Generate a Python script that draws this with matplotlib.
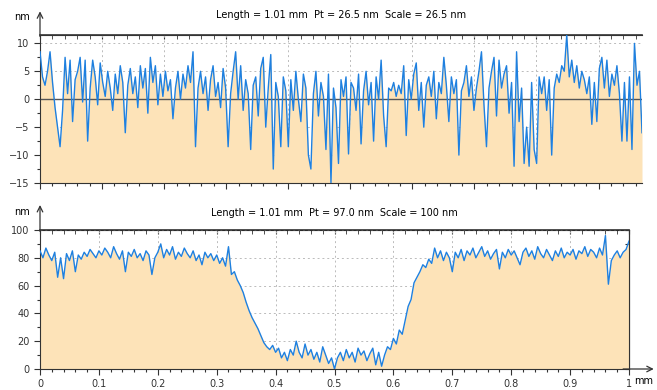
import numpy as np
import matplotlib
matplotlib.use("Agg")
import matplotlib.pyplot as plt
from matplotlib.ticker import MultipleLocator, NullFormatter

plt.rcParams['font.family'] = ['DejaVu Sans']

# profil du haut (rugosite, nm)
top_length = 0.97
top_z = [8.5, 4.0, 2.5, 5.0, 8.5, 3.0, -1.5, -5.0, -8.5, -2.0, 7.5, 1.0, 7.0, -4.0, 3.5, 5.0, 7.5, -0.5, 7.0, -7.5,
         2.0, 7.0, 4.0, -1.0, 6.5, 3.0, 0.5, 5.0, 2.0, -2.0, 4.5, 1.0, 6.0, 3.0, -6.0, 2.5, 5.5, 1.0, 4.0, -1.5,
         6.0, 2.0, 5.5, -2.5, 7.5, 3.0, 6.0, -1.0, 4.5, 0.5, 5.0, 1.5, 3.5, -3.5, 2.0, 5.0, 0.0, 4.5, 2.0, 6.0,
         3.0, 8.5, -8.5, 2.0, 5.0, 1.0, 4.0, -2.0, 3.5, 6.0, 0.5, 3.0, -1.5, 5.5, 2.0, -8.5, 1.0, 5.0, 8.5, 0.0,
         6.0, -2.0, 3.5, 1.0, -9.0, 2.5, 4.0, -3.0, 5.5, 7.5, -5.0, 2.0, 8.0, -12.5, 3.0, 0.5, -8.5, 4.0, 1.5, -8.5,
         3.5, -2.0, 5.0, 0.0, -4.0, 4.5, 2.0, -10.0, -12.5, 1.0, 5.0, -3.0, 3.0, 0.5, -9.0, 4.5, -15.0, 2.0, -1.5, -11.5,
         3.5, 0.5, 4.0, -9.8, 3.0, 2.0, -2.0, 4.5, -8.0, 1.5, 5.0, -1.0, 3.0, -7.5, 4.0, 0.0, 7.0, -3.0, -8.5, 2.0,
         1.5, 3.0, 0.5, 2.5, 1.0, 6.0, -6.5, 3.5, 0.0, 4.5, 6.5, -2.0, 3.0, -5.0, 2.5, 4.0, 0.5, 5.0, -3.5, 3.0,
         1.0, 7.5, 2.5, -4.0, 4.0, 1.0, 3.5, -10.0, 1.5, 3.0, 6.0, 0.5, 4.0, -2.0, 2.0, 5.0, 8.5, -1.0, -8.5, 2.0,
         5.0, 7.5, -3.0, 7.0, 2.0, 4.5, 6.0, -2.5, 3.0, -12.0, 8.5, -4.0, 2.0, -11.5, -5.0, -12.0, 3.0, -9.0, -11.5, 4.0,
         1.0, 4.0, -2.0, 3.5, -10.0, 2.0, 4.5, 3.0, 6.0, 5.0, 11.5, 4.0, 7.0, 3.0, 6.0, 2.0, 5.0, 3.5, 1.0, 4.0,
         -4.5, 3.0, -4.0, 5.5, 7.5, 2.0, 7.0, 0.5, 4.5, 2.5, 6.0, 1.0, -7.5, 3.0, -7.5, 4.0, -9.0, 10.0, 2.5, 5.0, -6.0]
top_title = "Length = 1.01 mm  Pt = 26.5 nm  Scale = 26.5 nm"

# profil du bas (marche, nm)
bot_length = 1.0
bot_z = [85, 80, 87, 82, 78, 84, 66, 80, 65, 83, 78, 85, 70, 82, 79, 84, 81, 86, 83, 80,
         85, 82, 87, 84, 80, 88, 83, 79, 85, 70, 84, 81, 86, 80, 83, 78, 85, 82, 68, 80,
         84, 90, 80, 86, 82, 88, 79, 84, 81, 87, 83, 80, 85, 78, 82, 75, 84, 80, 83, 78,
         82, 76, 80, 74, 88, 68, 70, 64, 60, 55, 48, 42, 37, 33, 29, 24, 19, 16, 14, 17,
         12, 15, 8, 12, 6, 14, 10, 20, 12, 8, 18, 10, 14, 7, 12, 5, 16, 10, 4, 8,
         0, 8, 12, 6, 14, 8, 12, 5, 15, 10, 13, 6, 11, 15, 3, 12, 2, 10, 16, 14,
         22, 18, 28, 25, 35, 45, 50, 62, 66, 70, 75, 73, 79, 76, 87, 80, 85, 78, 84, 80,
         70, 84, 80, 86, 78, 85, 82, 87, 80, 84, 88, 81, 85, 79, 83, 86, 72, 84, 80, 86,
         82, 85, 80, 75, 84, 87, 81, 85, 79, 88, 83, 80, 86, 82, 78, 85, 81, 87, 80, 84,
         82, 86, 79, 85, 83, 88, 81, 86, 84, 80, 87, 82, 96, 61, 78, 82, 85, 80, 84, 86, 92]
bot_title = "Length = 1.01 mm  Pt = 97.0 nm  Scale = 100 nm"
bot_xticks = [0, 0.1, 0.2, 0.3, 0.4, 0.5, 0.6, 0.7, 0.8, 0.9, 1]
bot_xlabels = ["0", "0.1", "0.2", "0.3", "0.4", "0.5", "0.6", "0.7", "0.8", "0.9", "1"]

fill_col = "#FDE3B8"
line_col = "#1E80E0"
fs = 7

fig = plt.figure(figsize=(6.57, 3.9), dpi=100)
W, H = 657, 390

def px_axes(l, t, r, b):
    return fig.add_axes([l / W, 1 - b / H, (r - l) / W, (b - t) / H])

# ---- panneau du haut
ax1 = px_axes(40, 35, 642, 183)
x1 = np.linspace(0, top_length, len(top_z))
ax1.fill_between(x1, top_z, -15, color=fill_col, lw=0, zorder=1)
ax1.axhline(0, color="#555555", lw=1, zorder=2)
ax1.plot(x1, top_z, color=line_col, lw=1.0, zorder=3)
ax1.set_xlim(0, top_length)
ax1.set_ylim(-15, 11.5)
ax1.yaxis.set_major_locator(MultipleLocator(5))
ax1.yaxis.set_minor_locator(MultipleLocator(2.5))
ax1.xaxis.set_major_locator(MultipleLocator(0.1))
ax1.xaxis.set_minor_locator(MultipleLocator(0.02))
ax1.xaxis.set_major_formatter(NullFormatter())
ax1.grid(True, which="major", color="#BBBBBB", ls=(0, (2, 3)), lw=0.7, zorder=0)
ax1.set_axisbelow(True)
ax1.spines["right"].set_visible(False)
for s in ["left", "top", "bottom"]:
    ax1.spines[s].set_color("#333333")
ax1.spines["top"].set_linewidth(1.2)
ax1.tick_params(axis="both", which="both", colors="#333333", labelsize=fs, width=0.8)
ax1.tick_params(which="major", length=4)
ax1.tick_params(which="minor", length=2)
sec1 = ax1.secondary_xaxis("top")
sec1.xaxis.set_major_locator(MultipleLocator(0.1))
sec1.xaxis.set_minor_locator(MultipleLocator(0.02))
sec1.xaxis.set_major_formatter(NullFormatter())
sec1.tick_params(which="both", direction="in", length=3, color="#333333")
sec1.spines["top"].set_color("#333333")
ax1.set_title(top_title, fontsize=fs, pad=12)
ax1.annotate("", xy=(0, 1.16), xycoords="axes fraction", xytext=(0, 0.99),
             arrowprops=dict(arrowstyle="->", color="#333333", lw=0.9, shrinkA=0, shrinkB=0))
ax1.text(-0.03, 1.12, "nm", transform=ax1.transAxes, fontsize=fs, ha="center", va="center")

# ---- panneau du bas
ax2 = px_axes(40, 230, 629, 369)
x2 = np.linspace(0, bot_length, len(bot_z))
ax2.fill_between(x2, bot_z, 0, color=fill_col, lw=0, zorder=1)
ax2.plot(x2, bot_z, color=line_col, lw=1.0, zorder=3)
ax2.set_xlim(0, bot_length)
ax2.set_ylim(0, 100)
ax2.set_xticks(bot_xticks)
ax2.set_xticklabels(bot_xlabels)
ax2.xaxis.set_minor_locator(MultipleLocator(0.02))
ax2.yaxis.set_major_locator(MultipleLocator(20))
ax2.yaxis.set_minor_locator(MultipleLocator(10))
ax2.grid(True, which="major", color="#BBBBBB", ls=(0, (2, 3)), lw=0.7, zorder=0)
ax2.set_axisbelow(True)
for s in ax2.spines.values():
    s.set_color("#333333")
ax2.spines["top"].set_linewidth(1.2)
ax2.tick_params(axis="both", which="both", colors="#333333", labelsize=fs, width=0.8)
ax2.tick_params(which="major", length=4)
ax2.tick_params(which="minor", length=2)
sec2 = ax2.secondary_xaxis("top")
sec2.xaxis.set_major_locator(MultipleLocator(0.1))
sec2.xaxis.set_minor_locator(MultipleLocator(0.02))
sec2.xaxis.set_major_formatter(NullFormatter())
sec2.tick_params(which="both", direction="in", length=3, color="#333333")
sec3 = ax2.secondary_yaxis("right")
sec3.yaxis.set_major_locator(MultipleLocator(10))
sec3.yaxis.set_major_formatter(NullFormatter())
sec3.tick_params(which="both", direction="in", length=3, color="#333333")
ax2.set_title(bot_title, fontsize=fs, pad=10)
ax2.annotate("", xy=(1.042, 0), xycoords="axes fraction", xytext=(0.99, 0),
             arrowprops=dict(arrowstyle="->", color="#333333", lw=0.9, shrinkA=0, shrinkB=0))
ax2.annotate("", xy=(0, 1.18), xycoords="axes fraction", xytext=(0, 0.99),
             arrowprops=dict(arrowstyle="->", color="#333333", lw=0.9, shrinkA=0, shrinkB=0))
ax2.text(-0.03, 1.13, "nm", transform=ax2.transAxes, fontsize=fs, ha="center", va="center")
ax2.text(1.008, -0.085, "mm", transform=ax2.transAxes, fontsize=fs, ha="left", va="center")

fig.savefig("out.png", dpi=100)
